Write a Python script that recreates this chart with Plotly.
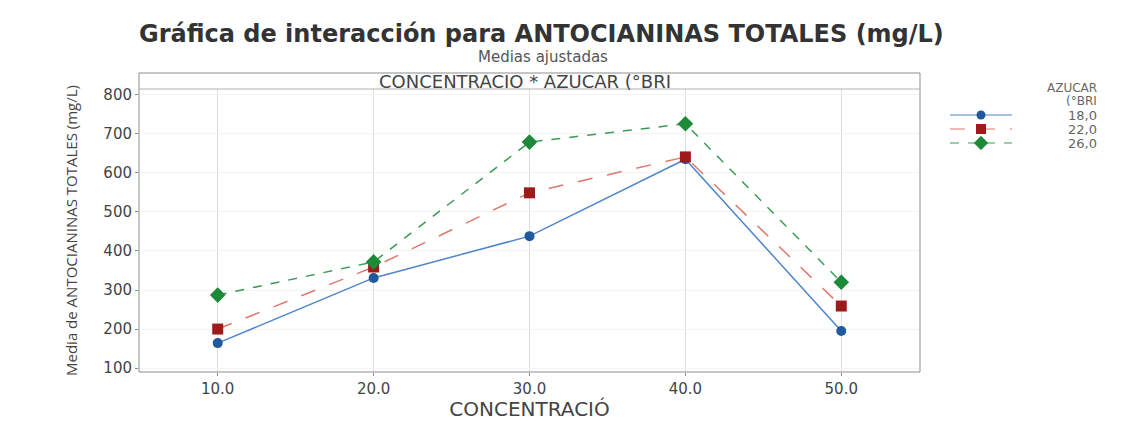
import plotly.graph_objects as go

concentracion = [10.0, 20.0, 30.0, 40.0, 50.0]
x_tick_labels = ["10.0", "20.0", "30.0", "40.0", "50.0"]
y_ticks = [100, 200, 300, 400, 500, 600, 700, 800]

azucar_labels = ["18,0", "22,0", "26,0"]
media_18 = [164, 331, 438, 635, 195]
media_22 = [200, 359, 549, 641, 259]
media_26 = [287, 372, 679, 726, 320]

series = [media_18, media_22, media_26]
line_colors = ["#4f86c9", "#e0776d", "#3c9a55"]
marker_colors = ["#1f5a9e", "#9e1b1b", "#1d8a3a"]
symbols = ["circle", "square", "diamond"]
marker_sizes = [10, 11, 12]
dashes = ["solid", "longdash", "dash"]

FONT = "DejaVu Sans, Open Sans, sans-serif"
NARROW = "Liberation Sans Narrow, Open Sans, sans-serif"

# the page body adds an 8px margin; geometry below is given in screen pixels
OFF = 8
W, H = 1131 - OFF, 421 - OFF
ML, MR, MT = 139 - OFF, 20, 89 - OFF
BOTTOM = 372 - OFF
MB = H - BOTTOM
PW = W - ML - MR
PH = H - MT - MB
def px_x(px):
    return (px - OFF - ML) / PW
def px_y(py):
    return (BOTTOM - (py - OFF)) / PH

fig = go.Figure()
for name, vals, lc, mc, sym, ms, dsh in zip(azucar_labels, series, line_colors, marker_colors,
                                            symbols, marker_sizes, dashes):
    fig.add_trace(go.Scatter(
        x=concentracion, y=vals, name=name, mode="lines+markers",
        line=dict(color=lc, width=1.5, dash=dsh),
        marker=dict(color=mc, symbol=sym, size=ms, line=dict(width=0)),
        showlegend=False, xaxis="x", yaxis="y",
    ))

# custom legend drawn on its own small axis pair (one row per series)
for i, (name, lc, mc, sym, ms, dsh) in enumerate(zip(azucar_labels, line_colors, marker_colors,
                                                      symbols, marker_sizes, dashes)):
    fig.add_trace(go.Scatter(
        x=[0, 1], y=[i, i], mode="lines",
        line=dict(color=lc, width=1.2, dash=dsh),
        showlegend=False, hoverinfo="skip", xaxis="x2", yaxis="y2",
    ))
    fig.add_trace(go.Scatter(
        x=[0.5], y=[i], mode="markers",
        marker=dict(color=mc, symbol=sym, size=ms - 1, line=dict(width=0)),
        showlegend=False, hoverinfo="skip", xaxis="x2", yaxis="y2",
    ))

LEG_TOP, LEG_ROW = 115, 14
legend_annotations = [
    dict(text=name, xref="paper", yref="paper", x=px_x(1099), y=px_y(LEG_TOP + LEG_ROW * i),
         xanchor="right", yanchor="middle", showarrow=False, font=dict(size=13, color="#666"))
    for i, name in enumerate(azucar_labels)
]

fig.update_layout(
    width=W, height=H,
    margin=dict(l=ML, r=MR, t=MT, b=MB, autoexpand=False),
    paper_bgcolor="white", plot_bgcolor="white",
    font=dict(family=FONT, color="#444"),
    showlegend=False,
    xaxis=dict(
        domain=[0, px_x(920)],
        range=[4.95, 55.05], tickvals=concentracion, ticktext=x_tick_labels,
        showgrid=True, gridcolor="#dcdcdc", gridwidth=1,
        zeroline=False, showline=False, automargin=False,
        ticks="outside", ticklen=3, tickcolor="#888",
        tickfont=dict(size=15, color="#444"),
        title=dict(text="CONCENTRACIÓ", font=dict(size=20, color="#444"), standoff=1),
    ),
    yaxis=dict(
        range=[90, 815], tickvals=y_ticks,
        showgrid=True, gridcolor="#f3f3f3", gridwidth=1,
        zeroline=False, showline=False, automargin=False,
        ticks="outside", ticklen=3, tickcolor="#888",
        tickfont=dict(size=15, color="#444"),
        title=dict(text="Media de ANTOCIANINAS TOTALES (mg/L)",
                   font=dict(size=15, color="#444", family=NARROW),
                   standoff=22),
    ),
    xaxis2=dict(domain=[px_x(950), px_x(1012)], range=[0, 1], visible=False,
                fixedrange=True, anchor="y2"),
    yaxis2=dict(domain=[px_y(150), px_y(108)], range=[2.5, -0.5], visible=False,
                fixedrange=True, anchor="x2"),
    shapes=[
        dict(type="rect", xref="paper", yref="paper", x0=0, x1=px_x(920), y0=0, y1=px_y(73),
             line=dict(color="#8c8c8c", width=1), fillcolor="rgba(0,0,0,0)", layer="above"),
        dict(type="line", xref="paper", yref="paper", x0=0, x1=px_x(920), y0=1.0, y1=1.0,
             line=dict(color="#b0b0b0", width=1), layer="above"),
    ],
    annotations=[
        dict(text="Gráfica de interacción para ANTOCIANINAS TOTALES (mg/L)",
             xref="paper", yref="paper", x=px_x(541), y=px_y(34), xanchor="center", yanchor="middle",
             showarrow=False, font=dict(size=24, color="#333", weight="bold")),
        dict(text="Medias ajustadas",
             xref="paper", yref="paper", x=px_x(543), y=px_y(57), xanchor="center", yanchor="middle",
             showarrow=False, font=dict(size=15, color="#555")),
        dict(text="CONCENTRACIO * AZUCAR (°BRI",
             xref="paper", yref="paper", x=px_x(525), y=px_y(81), xanchor="center", yanchor="middle",
             showarrow=False, font=dict(size=18, color="#444")),
        dict(text="AZUCAR", xref="paper", yref="paper", x=px_x(1099), y=px_y(88),
             xanchor="right", yanchor="middle", showarrow=False, font=dict(size=12, color="#666")),
        dict(text="(°BRI", xref="paper", yref="paper", x=px_x(1099), y=px_y(101),
             xanchor="right", yanchor="middle", showarrow=False, font=dict(size=12, color="#666")),
    ] + legend_annotations,
)

fig.write_html("out.html")
